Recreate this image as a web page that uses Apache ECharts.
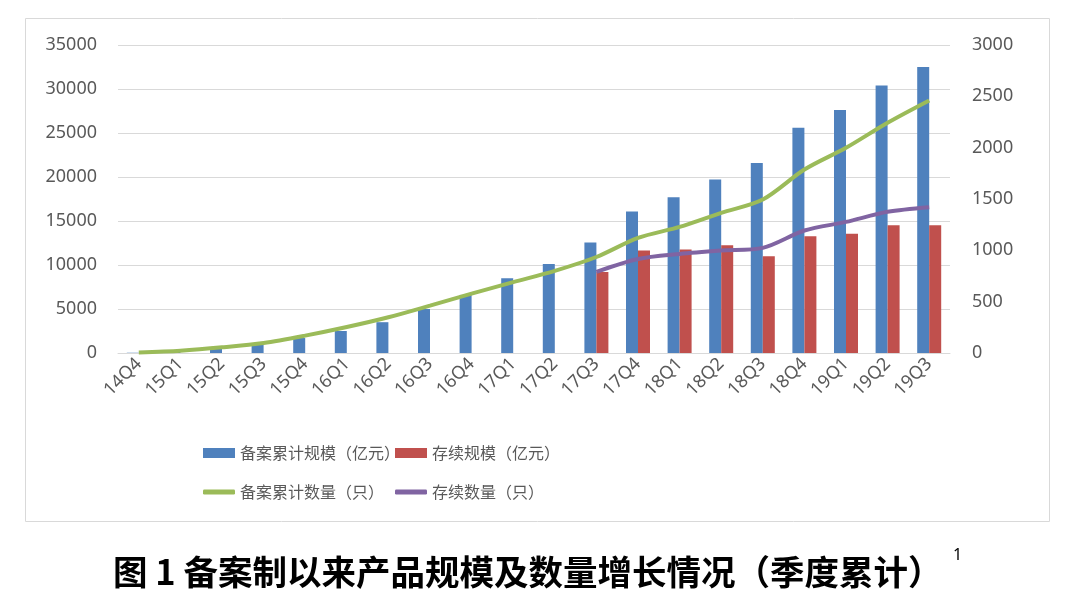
<!DOCTYPE html>
<html><head><meta charset="utf-8">
<script src="https://cdn.jsdelivr.net/npm/echarts@6/dist/echarts.min.js"></script>
<style>html,body{margin:0;padding:0;background:#fff}#c{width:1080px;height:600px}</style>
</head><body><div id="c"></div>
<script>
const categories = ['14Q4','15Q1','15Q2','15Q3','15Q4','16Q1','16Q2','16Q3','16Q4','17Q1','17Q2','17Q3','17Q4','18Q1','18Q2','18Q3','18Q4','19Q1','19Q2','19Q3'];
const filedScale = [30, 150, 550, 1000, 1700, 2500, 3500, 5000, 6600, 8500, 10100, 12550, 16080, 17700, 19720, 21600, 25600, 27600, 30400, 32500];
const survivingScale = [null, null, null, null, null, null, null, null, null, null, null, 9200, 11650, 11750, 12250, 11000, 13270, 13540, 14520, 14520];
const filedCount = [5, 23, 55, 97, 169, 253, 348, 461, 578, 690, 800, 935, 1121, 1228, 1365, 1495, 1787, 1999, 2243, 2460];
const survivingCount = [null, null, null, null, null, null, null, null, null, null, null, 790, 916, 965, 998, 1024, 1193, 1277, 1375, 1420];
const seriesNames = ['备案累计规模（亿元）', '存续规模（亿元）', '备案累计数量（只）', '存续数量（只）'];
const titleText = '图 1 备案制以来产品规模及数量增长情况（季度累计）';

const chart = echarts.init(document.getElementById('c'));
const grey = '#595959';
const legendText = {fontSize: 16, color: grey, fontFamily: 'Noto Sans CJK SC'};
function mkLegend(name, left, top, icon, w, h) {
  return {data: [{name: name, icon: icon}], left: left, top: top, itemWidth: w, itemHeight: h, itemGap: 0, textStyle: legendText, selectedMode: false};
}
const plain = v => String(v);
chart.setOption({
  animation: false,
  graphic: [
    {type: 'rect', shape: {x: 25.5, y: 18.5, width: 1024, height: 503}, style: {fill: 'none', stroke: '#d9d9d9', lineWidth: 1}, z: -1},
    {type: 'text', left: 113, top: 555, style: {text: titleText, fontSize: 34.5, fontWeight: 'bold', fill: '#000', fontFamily: 'Noto Sans CJK SC'}},
    {type: 'text', left: 953, top: 547, style: {text: '1', fontSize: 16, fill: '#000', fontFamily: 'Noto Sans'}}
  ],
  legend: [
    mkLegend(seriesNames[0], 198, 440, 'rect', 32, 10),
    mkLegend(seriesNames[1], 390, 440, 'rect', 32, 10),
    mkLegend(seriesNames[2], 198, 479, 'roundRect', 32, 5),
    mkLegend(seriesNames[3], 390, 479, 'roundRect', 32, 5)
  ],
  grid: {left: 118, right: 130, top: 45, bottom: 247, containLabel: false},
  xAxis: {
    type: 'category', data: categories,
    axisLine: {lineStyle: {color: '#d9d9d9'}}, axisTick: {show: false},
    axisLabel: {rotate: 45, color: grey, fontSize: 18, fontFamily: 'Noto Sans', margin: 8, interval: 0}
  },
  yAxis: [
    {type: 'value', min: 0, max: 35000, interval: 5000,
     axisLine: {show: false}, axisTick: {show: false},
     splitLine: {lineStyle: {color: '#d9d9d9'}},
     axisLabel: {color: grey, fontSize: 18, fontFamily: 'Noto Sans', margin: 21, formatter: plain}},
    {type: 'value', min: 0, max: 3000, interval: 500,
     axisLine: {show: false}, axisTick: {show: false}, splitLine: {show: false},
     axisLabel: {color: grey, fontSize: 18, fontFamily: 'Noto Sans', margin: 22, formatter: plain}}
  ],
  series: [
    {name: seriesNames[0], type: 'bar', data: filedScale, barWidth: 12, barGap: '0%', itemStyle: {color: '#4F81BD'}},
    {name: seriesNames[1], type: 'bar', data: survivingScale, barWidth: 12, barGap: '0%', itemStyle: {color: '#C0504D'}},
    {name: seriesNames[2], type: 'line', yAxisIndex: 1, data: filedCount, smooth: 0.3, showSymbol: false, symbol: 'none', lineStyle: {width: 4, color: '#9BBB59'}, itemStyle: {color: '#9BBB59'}},
    {name: seriesNames[3], type: 'line', yAxisIndex: 1, data: survivingCount, smooth: 0.3, showSymbol: false, symbol: 'none', lineStyle: {width: 4, color: '#8064A2'}, itemStyle: {color: '#8064A2'}}
  ]
});
</script></body></html>
